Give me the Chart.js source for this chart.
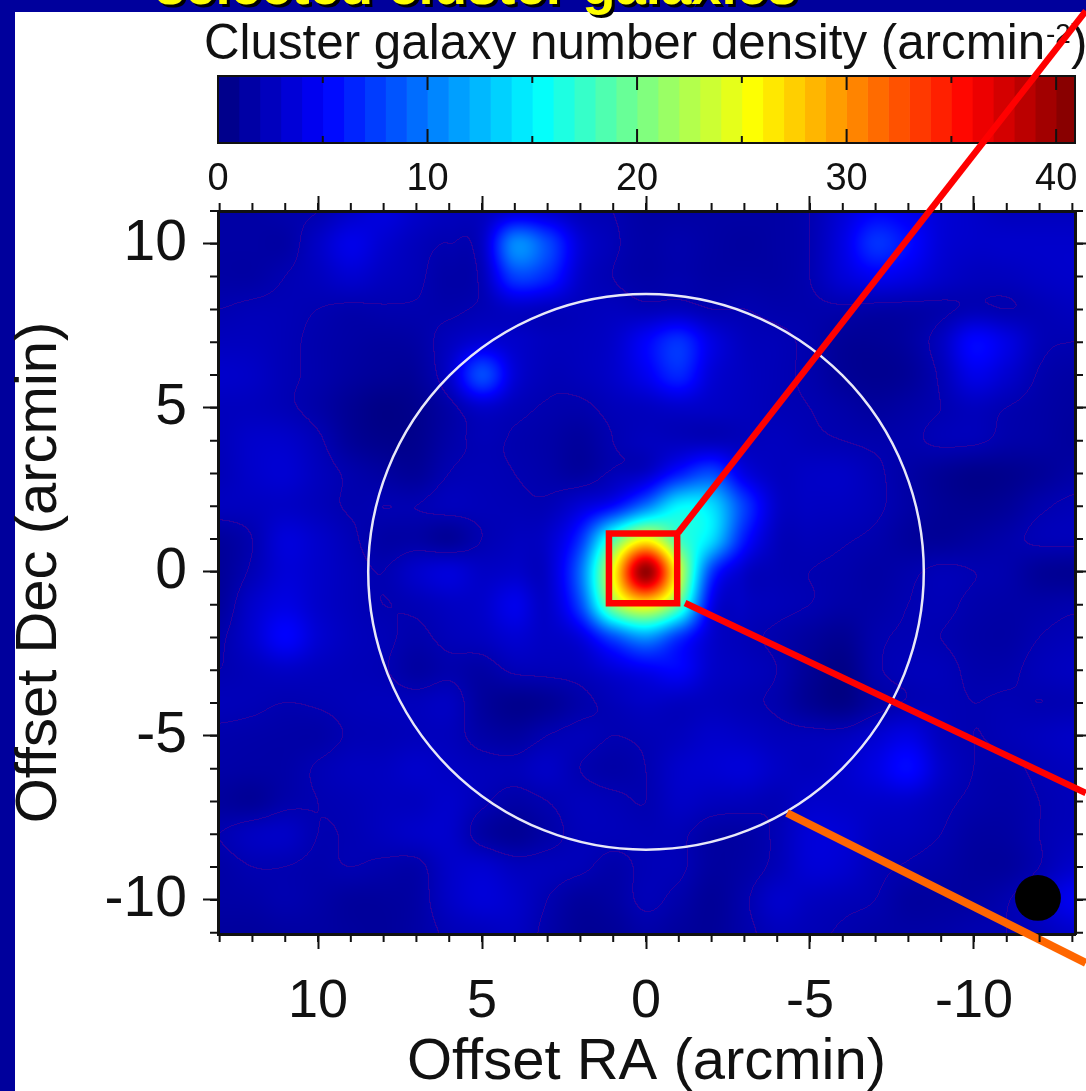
<!DOCTYPE html>
<html>
<head>
<meta charset="utf-8">
<title>Cluster galaxy number density</title>
<script src="https://cdn.jsdelivr.net/npm/chart.js@4/dist/chart.umd.js"></script>
<style>
    html, body { margin: 0; padding: 0; background: #00009c; overflow: hidden; }
    #panel { position: absolute; left: 15px; top: 12px; width: 1071px; height: 1079px; background: #fff; }
    canvas { position: absolute; left: 0; top: 0; filter: blur(0.6px); }
</style>
</head>
<body>
<div id="panel"></div>
<canvas id="barChart" width="1086" height="211"></canvas>
<canvas id="mapChart" width="1086" height="1091"></canvas>
<script>
    // map cells at 1 arcmin spacing
    var raValues = [13, 12, 11, 10, 9, 8, 7, 6, 5, 4, 3, 2, 1, 0, -1, -2, -3, -4, -5, -6, -7, -8, -9, -10, -11, -12, -13];
    var decValues = [11, 10, 9, 8, 7, 6, 5, 4, 3, 2, 1, 0, -1, -2, -3, -4, -5, -6, -7, -8, -9, -10, -11];
    var densityRows = [
        [1.5, 1.5, 1.8, 2, 3, 3.8, 3, 2.5, 2.5, 3.5, 3.2, 2.3, 2, 1.5, 1.5, 1.5, 1.5, 1.5, 2, 3.5, 5, 4.5, 3.5, 3, 2.5, 2.5, 2.5],
        [1.5, 1.5, 1.5, 2.8, 4.2, 3.2, 2.4, 2, 2.8, 10.5, 8, 3.5, 2.2, 1.6, 1.8, 1.5, 1.3, 1.5, 2, 4, 7, 5.5, 3.5, 3, 3, 3, 3],
        [1.5, 1.5, 2, 2.5, 3.2, 2.6, 2.2, 1.6, 2.3, 7.5, 6.5, 3, 2, 1.6, 1.8, 1.5, 1.5, 1.5, 2, 3.5, 4.5, 4, 3, 2.5, 2.5, 2.8, 3],
        [2, 2.2, 2.2, 2, 1.8, 1.9, 1.9, 1.8, 2.2, 2.8, 2.5, 2.4, 2.5, 2.3, 2.5, 2, 2, 1.8, 1.8, 1.8, 1.6, 1.6, 1.8, 2.2, 2, 2.2, 2.5],
        [2.5, 2.5, 2.2, 1.8, 1.5, 1.3, 1.5, 2.5, 3.5, 3, 2.5, 2.5, 3, 5, 7, 4, 2.5, 2.2, 1.8, 1, 0.9, 1.3, 2.6, 5.2, 4, 2.3, 2],
        [3, 2.8, 2.2, 1.8, 1.3, 1, 1.1, 3, 8, 3.5, 2.3, 2.4, 3, 4.5, 6.5, 3.5, 2.6, 2.2, 1.8, 1, 0.7, 1, 2.2, 4.2, 3.2, 1.9, 1.5],
        [2.5, 2.5, 2.2, 1.6, 0.8, 0.3, 0.6, 1.6, 3, 2.3, 1.9, 1.8, 2.3, 2.6, 3, 2.8, 2.5, 2.2, 2, 1.6, 1.2, 1.5, 2, 2.5, 2, 1.6, 1.3],
        [2.4, 3, 3, 2.2, 1, 0.5, 0.6, 1.6, 2.2, 1.9, 1.6, 1.2, 2, 2.5, 2.5, 2.4, 2.4, 2.5, 2.2, 2, 1.8, 1.8, 2.2, 2.2, 1.7, 1.5, 1.2],
        [2.3, 3, 3.3, 2.5, 1.8, 1.3, 1, 2, 2.2, 2, 1.7, 1.3, 2.2, 3, 6, 8, 4, 2.6, 2.8, 2.8, 2.2, 1.5, 0.9, 0.5, 0.6, 1, 1.5],
        [2.5, 2.6, 2.8, 2.4, 1.9, 2, 2, 2.4, 2.3, 2.2, 2.2, 3.5, 5.5, 10, 15, 14, 7.5, 3, 2.7, 2.6, 2.2, 1.5, 0.9, 0.7, 1, 1.8, 2.2],
        [1.2, 2, 3.6, 3, 2.2, 1.5, 1.5, 1, 2, 2.5, 3, 7, 18, 25, 18, 14, 6, 2.5, 2.3, 2.1, 1.8, 1.2, 1, 1.3, 1.7, 2.2, 2.3],
        [1, 2.2, 3.5, 3, 2.4, 2, 3, 3.6, 2.8, 3, 3, 9.5, 25, 40, 24, 7.5, 3, 2.2, 2, 1.8, 1.5, 1.8, 2.2, 2, 1.8, 1, 0.8],
        [1.2, 3, 4, 3, 2.4, 2, 2.2, 2.7, 3, 4.3, 3, 8, 21, 26, 19, 4.5, 2.7, 2.3, 2, 1.6, 1.6, 2, 2.2, 1.8, 1.6, 1.6, 1.8],
        [1.8, 3.2, 5, 3.3, 2.5, 2.2, 1.8, 2.3, 2.6, 3.3, 2.8, 3.8, 8, 11, 7, 3.2, 2.3, 1.8, 1.2, 0.8, 1.8, 2.1, 2, 1.6, 1.5, 2, 2.3],
        [2, 2.4, 2.8, 2.5, 2.3, 2.1, 1.4, 1.8, 1.5, 2.2, 2.3, 2.5, 3.5, 4.5, 5, 3, 2.5, 2, 0.9, 0.3, 1.8, 2.3, 2.3, 1.8, 1.8, 2.3, 2.6],
        [2.3, 2.2, 2, 2.1, 2.3, 2.4, 2.4, 2.6, 1.2, 0.6, 0.9, 1.7, 2.3, 2.8, 2.6, 2.5, 2.2, 1.8, 0.8, 0.3, 1.5, 2.1, 2.2, 2, 2.1, 2, 2.1],
        [1.8, 1.7, 1.6, 1.6, 2.1, 2.2, 2.4, 2.4, 1.6, 1.3, 2, 2.3, 2, 2.2, 2.5, 3, 2.8, 2.4, 2.3, 2.4, 3.2, 4, 2.5, 2, 2.2, 2.5, 2.8],
        [1.6, 1.5, 1.6, 2.1, 2.5, 2.6, 3, 2.7, 2.4, 2.3, 2.8, 2, 1.6, 2, 3, 3.3, 3.5, 2.8, 2.5, 3, 4, 5.3, 3, 2, 1.8, 2.2, 2.5],
        [1.2, 1, 1.7, 2, 2.2, 2.5, 2.6, 3, 2.2, 1.6, 2, 2.4, 2.2, 2, 2.8, 2.5, 2.4, 2.2, 3, 3, 3, 3, 2.3, 1.8, 1.6, 2, 2.3],
        [2, 2.6, 2.8, 2, 2.1, 2.5, 2.9, 3, 1.5, 0.9, 1.6, 2.3, 2.3, 2.2, 2.2, 1.5, 1.5, 2.2, 3.5, 3.4, 2.6, 2.4, 2, 1.4, 1.4, 2, 2.4],
        [1.6, 2, 2, 1.8, 2, 1.8, 1.7, 2.9, 3.2, 2.5, 2.4, 2.2, 1.7, 2.2, 2.2, 1.3, 1.5, 2.3, 3.4, 3.2, 2.3, 1.9, 1.6, 1.2, 1.2, 2, 3],
        [1.5, 1.6, 1.9, 1.6, 1.2, 1.2, 1.5, 2.8, 3.5, 3, 2, 1.2, 1.4, 2.2, 1.7, 1, 1.8, 3, 2.6, 2.3, 2, 1.3, 1.3, 1.4, 1.9, 3, 4.5],
        [1.2, 1.2, 1.4, 1.4, 1.2, 1.1, 1.5, 2.2, 2.5, 2.7, 1.7, 0.9, 1, 1.6, 1.2, 1, 1.7, 2.4, 2.2, 1.9, 1.6, 1.5, 1.6, 1.9, 2, 2.4, 3]
    ];
    var contourLevels = [2];

    // axes
    var raTicks = [10, 5, 0, -5, -10];
    var decTicks = [10, 5, 0, -5, -10];
    var colorTicks = [0, 10, 20, 30, 40];
    var colorMinorTicks = [5, 15, 25, 35];
    var colorMax = 40.9;
    var colorBands = [0, 1, 2, 3, 4, 5, 6, 7, 8, 9, 10, 11, 12, 13, 14, 15, 16, 17, 18, 19, 20, 21, 22, 23, 24, 25, 26, 27, 28, 29, 30, 31, 32, 33, 34, 35, 36, 37, 38, 39, 40, 40.9];

    // overlays, in arcmin
    var apertureRadius = 8.47;
    var beamCentre = {x: -11.95, y: -9.94};
    var beamRadius = 0.7;
    var zoomBox = [{x: 1.13, y: 1.17}, {x: -0.95, y: 1.17}, {x: -0.95, y: -0.96}, {x: 1.13, y: -0.96}, {x: 1.13, y: 1.17}, {x: -0.95, y: 1.17}];
    var redLineUp = [{x: -0.98, y: 1.19}, {x: -13.41, y: 17.1}];
    var redLineDown = [{x: -1.19, y: -0.95}, {x: -13.41, y: -6.74}];
    var orangeLine = [{x: -4.3, y: -7.35}, {x: -13.41, y: -11.92}];

    var fontName = "'Liberation Sans', Arial, sans-serif";
    var inkColor = "#111";

    function jet(v) {
        var t = Math.min(Math.max(v / colorMax, 0), 1) * 4;
        var r = Math.min(t - 1.5, 4.5 - t);
        var g = Math.min(t - 0.5, 3.5 - t);
        var b = Math.min(t + 0.5, 2.5 - t);
        return [r, g, b].map(function (c) {
            return Math.round(255 * Math.min(Math.max(c, 0), 1));
        });
    }

    function catmull(a, b, c, d, t) {
        return b + 0.5 * t * (c - a + t * (2 * a - 5 * b + 4 * c - d + t * (3 * (b - c) + d - a)));
    }

    var cells = [];
    decValues.forEach(function (dec, r) {
        raValues.forEach(function (ra, c) {
            cells.push({x: ra, y: dec, v: densityRows[r][c]});
        });
    });

    // paints the density cells through the x and y scales, shaded between cells like the original image
    var densityPlugin = {
        id: "densityPlugin",
        beforeDraw: function (chart) {
            var area = chart.chartArea, xs = chart.scales.x, ys = chart.scales.y;
            var left = Math.round(area.left), top = Math.round(area.top);
            var w = Math.round(area.right) - left, h = Math.round(area.bottom) - top;
            var data = chart.data.datasets[0].data;
            var cols = raValues.length, rows = decValues.length;
            function at(r, c) {
                r = Math.min(Math.max(r, 0), rows - 1);
                c = Math.min(Math.max(c, 0), cols - 1);
                return data[r * cols + c].v;
            }
            var vals = new Float32Array(w * h);
            for (var py = 0; py < h; py++) {
                var fr = decValues[0] - ys.getValueForPixel(top + py + 0.5);
                var r0 = Math.floor(fr), tr = fr - r0;
                for (var px = 0; px < w; px++) {
                    var fc = raValues[0] - xs.getValueForPixel(left + px + 0.5);
                    var c0 = Math.floor(fc), tc = fc - c0;
                    var col = [];
                    for (var k = -1; k < 3; k++) {
                        col.push(catmull(at(r0 - 1, c0 + k), at(r0, c0 + k), at(r0 + 1, c0 + k), at(r0 + 2, c0 + k), tr));
                    }
                    vals[py * w + px] = catmull(col[0], col[1], col[2], col[3], tc);
                }
            }
            var img = chart.ctx.createImageData(w, h);
            for (var i = 0; i < w * h; i++) {
                var rgb = jet(vals[i]);
                var a = contourLevels.some(function (lv) {
                    return (vals[i] - lv) * (vals[i + 1] - lv) < 0 || (vals[i] - lv) * (vals[i + w] - lv) < 0;
                });
                img.data[i * 4] = a ? 42 : rgb[0];
                img.data[i * 4 + 1] = a ? 0 : rgb[1];
                img.data[i * 4 + 2] = a ? 160 : rgb[2];
                img.data[i * 4 + 3] = 255;
            }
            chart.ctx.putImageData(img, left, top);
        },
        // aperture circle and beam, sized in arcmin
        beforeDatasetsDraw: function (chart) {
            var ctx = chart.ctx, xs = chart.scales.x, ys = chart.scales.y;
            var pxPerArcmin = Math.abs(xs.getPixelForValue(1) - xs.getPixelForValue(0));
            ctx.save();
            ctx.beginPath();
            ctx.arc(xs.getPixelForValue(0), ys.getPixelForValue(0), apertureRadius * pxPerArcmin, 0, 2 * Math.PI);
            ctx.strokeStyle = "#e8e8f8";
            ctx.lineWidth = 2.5;
            ctx.stroke();
            ctx.beginPath();
            ctx.arc(xs.getPixelForValue(beamCentre.x), ys.getPixelForValue(beamCentre.y), beamRadius * pxPerArcmin, 0, 2 * Math.PI);
            ctx.fillStyle = "#000";
            ctx.fill();
            ctx.restore();
        }
    };

    // minor ticks and the cut off slide heading
    var framePlugin = {
        id: "framePlugin",
        afterDraw: function (chart) {
            var ctx = chart.ctx, area = chart.chartArea;
            ctx.save();
            ctx.strokeStyle = inkColor;
            ctx.lineWidth = 2;
            ctx.beginPath();
            for (var ra = -13; ra <= 13; ra++) {
                var px = chart.scales.x.getPixelForValue(ra);
                ctx.moveTo(px, area.bottom);
                ctx.lineTo(px, area.bottom + 8);
                ctx.moveTo(px, area.top);
                ctx.lineTo(px, area.top - 8);
            }
            for (var dec = -11; dec <= 11; dec++) {
                var py = chart.scales.y.getPixelForValue(dec);
                ctx.moveTo(area.left, py);
                ctx.lineTo(area.left - 8, py);
                ctx.moveTo(area.right, py);
                ctx.lineTo(area.right + 8, py);
            }
            ctx.stroke();
            ctx.font = "bold 54.5px " + fontName;
            ctx.textBaseline = "alphabetic";
            ctx.fillStyle = "#000";
            ctx.fillText("selected cluster galaxies", 158, 7);
            ctx.fillStyle = "#ffff00";
            ctx.fillText("selected cluster galaxies", 155, 4);
            ctx.restore();
        }
    };

    var redStyle = {showLine: true, pointRadius: 0, clip: false, borderColor: "#ff0000", borderWidth: 6.5, borderCapStyle: "butt", borderJoinStyle: "miter"};

    function fixedAxis(extra, size) {
        var base = {
            border: {display: true, color: inkColor, width: 3},
            grid: {drawOnChartArea: false, color: inkColor, tickColor: inkColor, tickWidth: 2, tickLength: 15},
            afterFit: function (scale) {
                if (scale.isHorizontal()) { scale.height = size; } else { scale.width = size; }
                scale.paddingLeft = scale.paddingRight = scale.paddingTop = scale.paddingBottom = 0;
            }
        };
        return Object.assign(base, extra);
    }

    function raAxis(position, showLabels) {
        return fixedAxis({
            position: position, type: "linear", reverse: true, min: -13.08, max: 13.05,
            afterBuildTicks: function (scale) {
                scale.ticks = raTicks.map(function (v) { return {value: v}; });
            },
            ticks: {display: showLabels, color: inkColor, padding: 21, maxRotation: 0, autoSkip: false, font: {family: fontName, size: 54}, callback: String},
            title: {display: showLabels, text: "Offset RA (arcmin)", color: inkColor, font: {family: fontName, size: 58}, padding: {top: 0, bottom: -7}}
        }, position === "bottom" ? 157 : 211);
    }

    function decAxis(position, showLabels) {
        return fixedAxis({
            position: position, type: "linear", min: -11.04, max: 11,
            afterBuildTicks: function (scale) {
                scale.ticks = decTicks.map(function (v) { return {value: v}; });
            },
            ticks: {display: showLabels, color: inkColor, padding: 16, autoSkip: false, font: {family: fontName, size: 57}, callback: String},
            title: {display: showLabels, text: "Offset Dec (arcmin)", color: inkColor, font: {family: fontName, size: 58}, padding: {top: 5, bottom: 0}}
        }, position === "left" ? 218 : 11);
    }

    var mapChart = new Chart(document.getElementById("mapChart").getContext("2d"), {
        type: "scatter",
        data: {
            datasets: [
                {label: "density", data: cells, pointRadius: 0},
                Object.assign({label: "box", data: zoomBox}, redStyle),
                Object.assign({label: "up", data: redLineUp}, redStyle),
                Object.assign({label: "down", data: redLineDown}, redStyle),
                Object.assign({label: "orange", data: orangeLine}, redStyle, {borderColor: "#ff6600", borderWidth: 8})
            ]
        },
        options: {
            responsive: false,
            animation: false,
            layout: {padding: 0},
            plugins: {legend: {display: false}, title: {display: false}, tooltip: {enabled: false}},
            scales: {
                x: raAxis("bottom", true),
                x2: raAxis("top", false),
                y: decAxis("left", true),
                y2: decAxis("right", false)
            }
        },
        plugins: [densityPlugin, framePlugin]
    });

    // colour bar
    var barSets = colorBands.slice(0, -1).map(function (v, i) {
        var c = jet(v + 0.5);
        return {
            data: [[v, colorBands[i + 1]]],
            backgroundColor: "rgb(" + c.join(",") + ")",
            borderWidth: 0,
            grouped: false,
            barPercentage: 1,
            categoryPercentage: 1
        };
    });

    var barTicksPlugin = {
        id: "barTicksPlugin",
        afterDraw: function (chart) {
            var ctx = chart.ctx, area = chart.chartArea, xs = chart.scales.x;
            ctx.save();
            ctx.strokeStyle = inkColor;
            ctx.lineWidth = 2;
            ctx.strokeRect(area.left, area.top, area.right - area.left, area.bottom - area.top);
            ctx.beginPath();
            colorTicks.forEach(function (v) {
                ctx.moveTo(xs.getPixelForValue(v), area.top);
                ctx.lineTo(xs.getPixelForValue(v), area.top + 14);
                ctx.moveTo(xs.getPixelForValue(v), area.bottom);
                ctx.lineTo(xs.getPixelForValue(v), area.bottom - 14);
            });
            colorMinorTicks.forEach(function (v) {
                ctx.moveTo(xs.getPixelForValue(v), area.top);
                ctx.lineTo(xs.getPixelForValue(v), area.top + 7);
                ctx.moveTo(xs.getPixelForValue(v), area.bottom);
                ctx.lineTo(xs.getPixelForValue(v), area.bottom - 7);
            });
            ctx.stroke();
            ctx.fillStyle = inkColor;
            ctx.textBaseline = "alphabetic";
            ctx.font = "49.3px " + fontName;
            ctx.fillText("Cluster galaxy number density (arcmin", 204, 59);
            ctx.font = "28px " + fontName;
            ctx.fillText("-2", 1046, 43);
            ctx.font = "49.3px " + fontName;
            ctx.fillText(")", 1071, 59);
            ctx.restore();
        }
    };

    var barChart = new Chart(document.getElementById("barChart").getContext("2d"), {
        type: "bar",
        data: {labels: ["density"], datasets: barSets},
        options: {
            indexAxis: "y",
            responsive: false,
            animation: false,
            layout: {padding: {top: 76, left: 218, right: 11, bottom: 0}},
            plugins: {legend: {display: false}, title: {display: false}, tooltip: {enabled: false}},
            scales: {
                y: {display: false},
                x: {
                    min: 0, max: colorMax,
                    afterBuildTicks: function (scale) {
                        scale.ticks = colorTicks.map(function (v) { return {value: v}; });
                    },
                    afterFit: function (scale) {
                        scale.height = 68;
                        scale.paddingLeft = scale.paddingRight = 0;
                    },
                    border: {display: false},
                    grid: {display: false},
                    ticks: {color: inkColor, padding: 6, maxRotation: 0, autoSkip: false, font: {family: fontName, size: 38}, callback: String}
                }
            }
        },
        plugins: [barTicksPlugin]
    });
</script>
</body>
</html>
